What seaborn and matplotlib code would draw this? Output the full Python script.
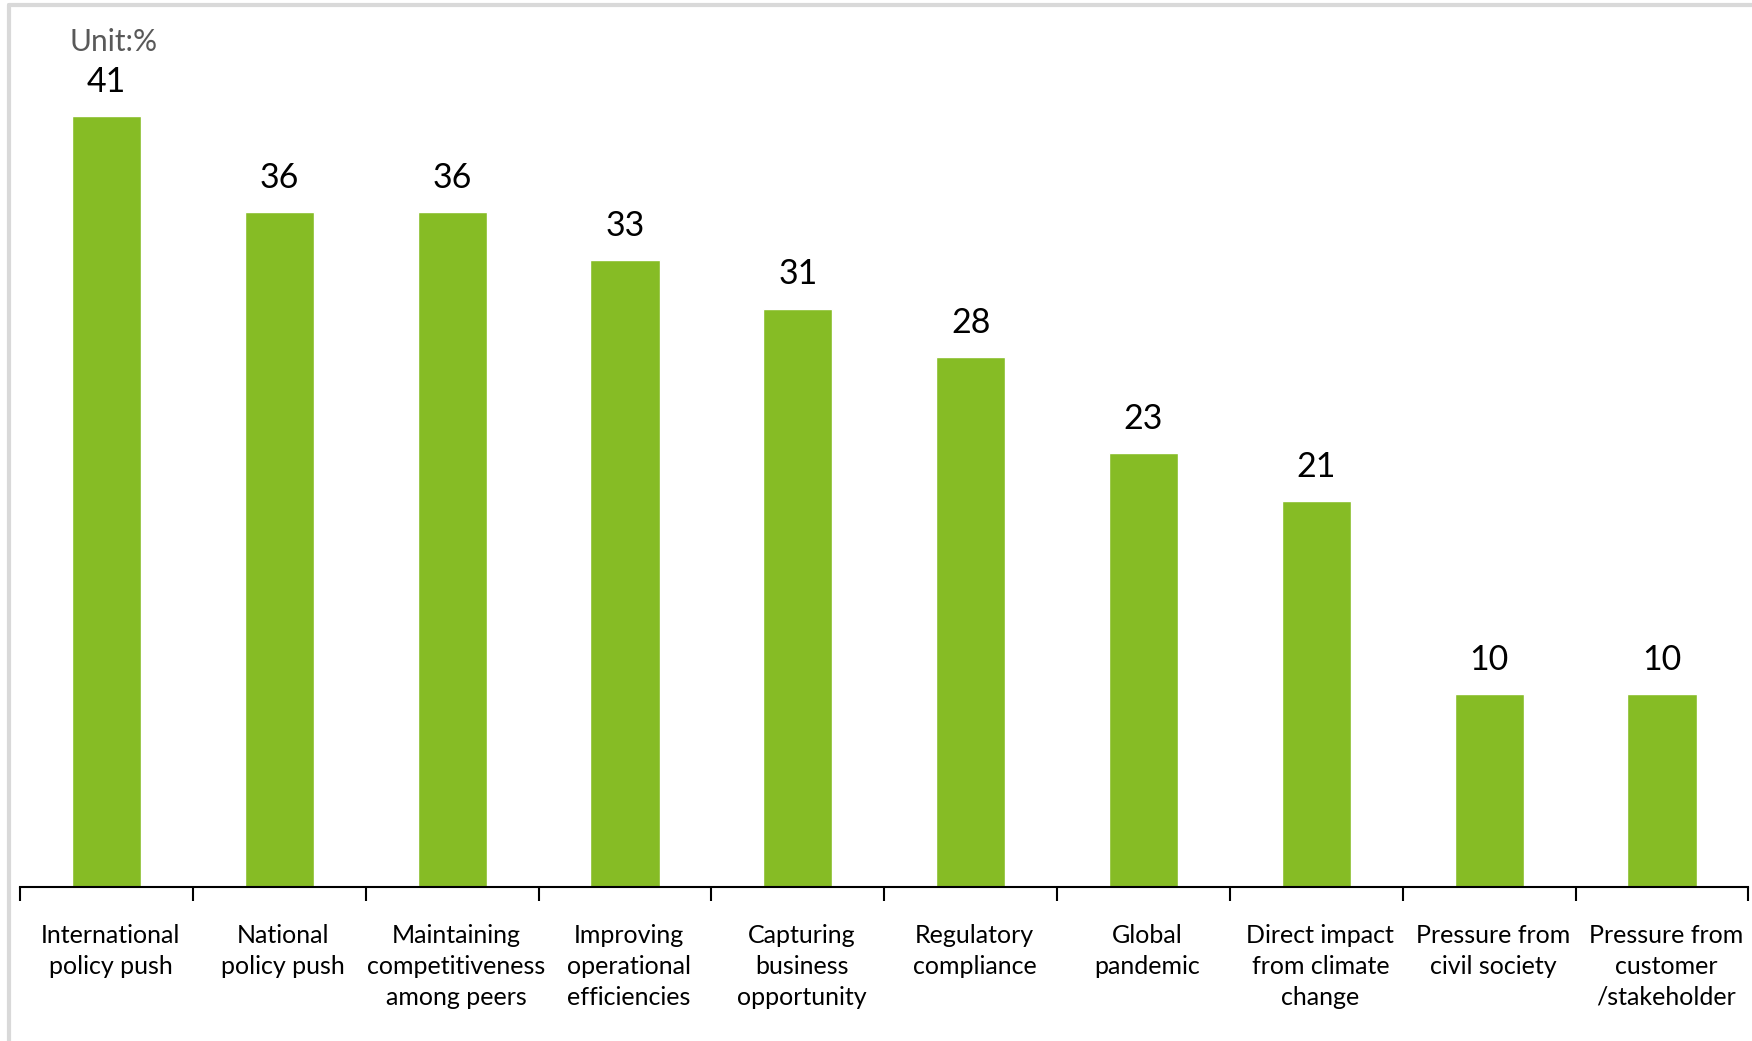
import matplotlib
matplotlib.use("Agg")
import matplotlib.pyplot as plt
import matplotlib.transforms as mtransforms
import seaborn as sns
import pandas as pd
from matplotlib.lines import Line2D

categories = [
    "International\npolicy push",
    "National\npolicy push",
    "Maintaining\ncompetitiveness\namong peers",
    "Improving\noperational\nefficiencies",
    "Capturing\nbusiness\nopportunity",
    "Regulatory\ncompliance",
    "Global\npandemic",
    "Direct impact\nfrom climate\nchange",
    "Pressure from\ncivil society",
    "Pressure from\ncustomer\n/stakeholder",
]
# bar heights (labels show them rounded)
values = [41.03, 35.90, 35.90, 33.33, 30.77, 28.21, 23.08, 20.51, 10.26, 10.26]
unit_label = "Unit:%"

sns.set_theme(style="white")
plt.rcParams["font.family"] = ["Lato", "DejaVu Sans"]

df = pd.DataFrame({"cat": categories, "val": values})

fig = plt.figure(figsize=(17.52, 10.41), dpi=100)
ax = fig.add_axes([0.0114, 0.148, 0.9866, 0.8126])

sns.barplot(data=df, x="cat", y="val", color="#86BC25", saturation=1,
            width=0.40, ax=ax)

ax.set_xlim(-0.5, len(categories) - 0.5)
ax.set_ylim(0, 45)
ax.set_xlabel("")
ax.set_ylabel("")
ax.set_yticks([])
for s in ["top", "right", "left"]:
    ax.spines[s].set_visible(False)
ax.spines["bottom"].set_color("#000000")
ax.spines["bottom"].set_linewidth(1.5)

ax.tick_params(axis="x", which="major", length=0, pad=27, labelsize=18,
               labelcolor="#000000")
ax.set_xticks(range(len(categories)))
ax.set_xticklabels(categories, linespacing=1.4)
ax.set_xticks([i - 0.5 for i in range(len(categories) + 1)], minor=True)
ax.tick_params(axis="x", which="minor", length=10, width=1.5,
               color="#000000", bottom=True)

shift = mtransforms.ScaledTranslation(4 / 100, 0, fig.dpi_scale_trans)
for lbl in ax.get_xticklabels():
    lbl.set_transform(lbl.get_transform() + shift)

for i, v in enumerate(values):
    ax.annotate(f"{v:.0f}", (i, v), xytext=(0, 13), textcoords="offset points",
                ha="center", va="bottom", fontsize=24.5, color="#000000")

fig.text(69 / 1752, 1 - 42 / 1041, unit_label, ha="left", va="center",
         fontsize=21.5, color="#595959")

# light grey frame lines (top and left)
fig.add_artist(Line2D([9 / 1752, 1], [1 - 5 / 1041, 1 - 5 / 1041],
                      transform=fig.transFigure, color="#D9D9D9", lw=3))
fig.add_artist(Line2D([9 / 1752, 9 / 1752], [0, 1 - 5 / 1041],
                      transform=fig.transFigure, color="#D9D9D9", lw=3))

fig.savefig("out.png", dpi=100, facecolor="white")
